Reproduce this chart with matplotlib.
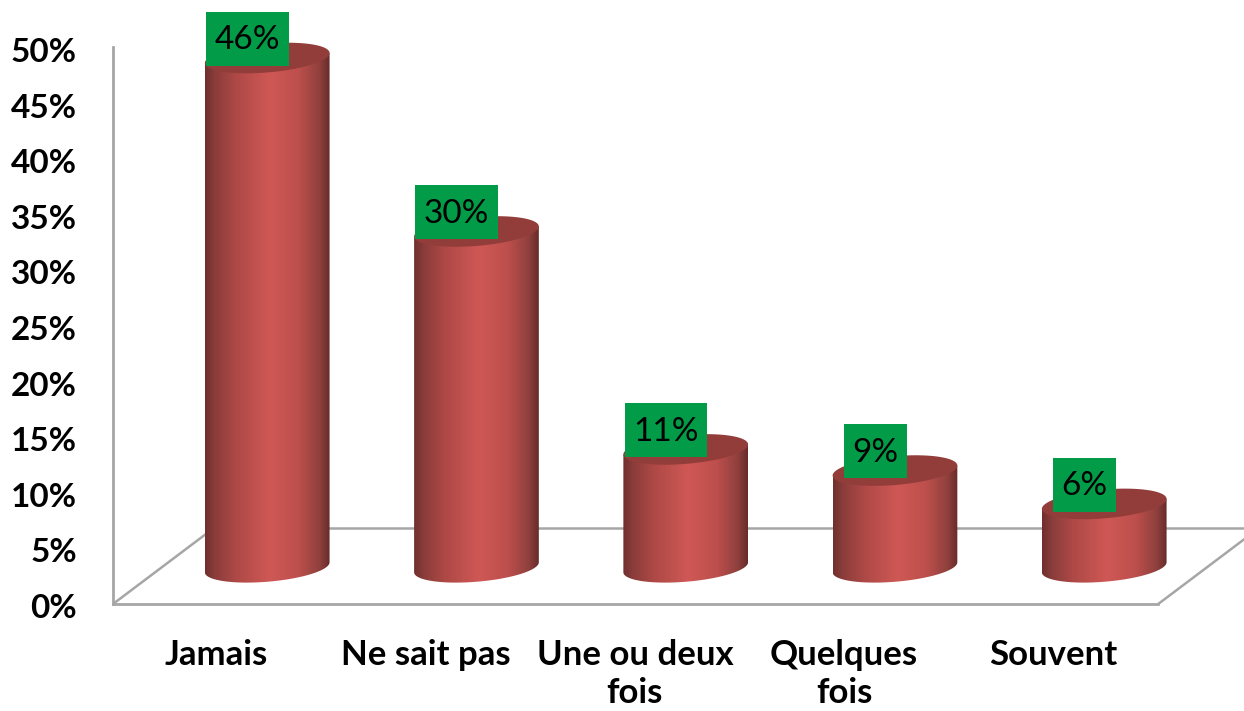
import numpy as np
import matplotlib
matplotlib.use('Agg')
import matplotlib.pyplot as plt
from matplotlib.colors import LinearSegmentedColormap
from matplotlib.patches import Polygon, Rectangle
from matplotlib.transforms import ScaledTranslation

plt.rcParams['font.family'] = ['Lato', 'DejaVu Sans']

categorias = ['Jamais', 'Ne sait pas', 'Une ou deux\nfois', 'Quelques\nfois', 'Souvent']
valores = [46, 30.4, 10.8, 8.9, 5.9]
ticks_y = [0, 5, 10, 15, 20, 25, 30, 35, 40, 45, 50]

cinza = '#a6a6a6'
verde = '#029b47'
cor_topo = '#923d3a'
gradiente = LinearSegmentedColormap.from_list('cilindro', [
    (0.0, '#6f302e'), (0.08, '#8a3d3b'), (0.25, '#ae4946'), (0.52, '#cf5855'),
    (0.75, '#bd4f4c'), (0.92, '#8f403d'), (1.0, '#662c2a')])

# profundidade do "chao" 3D, em unidades dos eixos
prof_x = 0.482
prof_y = 6.83
elev = 3.1      # altura da base dos cilindros sobre o eixo
meia_larg = 0.298
semi_b = 1.30
incl = 0.45
px_x = 209.25   # pixels por categoria
px_y = 11.12    # pixels por ponto percentual

fig = plt.figure(figsize=(12.44, 7.11), dpi=100)
ax = fig.add_axes([113 / 1244, 107 / 711, 1131 / 1244, 604 / 711])

x = np.arange(len(categorias))
t = np.linspace(0, 2 * np.pi, 200)
baixo = np.linspace(np.pi, 2 * np.pi, 100)

# chao e paredes
x0, x1 = -0.737, 4.668
frente = 4.258
ax.plot([x0, x0 + prof_x], [0, prof_y], color=cinza, lw=1.8, zorder=1)
ax.plot([x0 + prof_x, x1], [prof_y, prof_y], color=cinza, lw=1.8, zorder=1)
ax.plot([frente, frente + prof_x], [0, prof_y], color=cinza, lw=1.8, zorder=1)

ax.set_xlim(x0, x1)
ax.set_ylim(0, 604 / px_y)
renderer = fig.canvas.get_renderer()

# cilindros
for xi, v in zip(x, valores):
    topo = v + elev
    base = elev + 0.2
    bx = xi + meia_larg * np.cos(baixo)
    by = base + semi_b * np.sin(baixo) + incl * np.cos(baixo)
    corpo = np.vstack([[xi - meia_larg, topo - incl],
                       np.column_stack([bx, by]),
                       [xi + meia_larg, topo + incl]])
    patch = Polygon(corpo, closed=True, fc='none', ec='none', transform=ax.transData)
    ax.add_patch(patch)
    img = ax.imshow(np.linspace(0, 1, 256).reshape(1, -1), cmap=gradiente, aspect='auto',
                    extent=[xi - meia_larg, xi + meia_larg, 0, topo + 2], zorder=2)
    img.set_clip_path(patch)
    tampa = np.column_stack([xi + meia_larg * np.cos(t),
                             topo + semi_b * np.sin(t) + incl * np.cos(t)])
    ax.add_patch(Polygon(tampa, closed=True, fc=cor_topo, ec='none', zorder=3))
    # rotulo verde: largura segue o texto, altura fixa
    cx = xi - 0.095
    cy = topo + 1.73
    txt = ax.text(cx, cy - 0.15, f'{v:.0f}%', fontsize=24, color='black',
                  ha='center', va='center', zorder=5)
    larg = (txt.get_window_extent(renderer).width + 17) / px_x
    alt = 54 / px_y
    ax.add_patch(Rectangle((cx - larg / 2, cy - alt / 2), larg, alt, fc=verde, ec='none', zorder=4))

ax.set_xlim(x0, x1)
ax.set_ylim(0, 604 / px_y)

ax.set_yticks(ticks_y)
ax.set_yticklabels([f'{v}%' for v in ticks_y], fontsize=24, fontweight='bold')
ax.tick_params(axis='y', length=0, pad=26)
desce = ScaledTranslation(0, -1.5 / 72, fig.dpi_scale_trans)
for lab in ax.get_yticklabels():
    lab.set_transform(lab.get_transform() + desce)
ax.set_xticks(x - 0.243)
ax.set_xticklabels(categorias, fontsize=25, fontweight='bold', linespacing=1.25)
ax.tick_params(axis='x', length=0, pad=25)

for lado in ['top', 'right']:
    ax.spines[lado].set_visible(False)
ax.spines['left'].set_color(cinza)
ax.spines['left'].set_linewidth(2)
ax.spines['left'].set_bounds(0, 50.1)
ax.spines['bottom'].set_color(cinza)
ax.spines['bottom'].set_linewidth(2)
ax.spines['bottom'].set_bounds(x0, frente)

fig.savefig('out.png', dpi=100)
